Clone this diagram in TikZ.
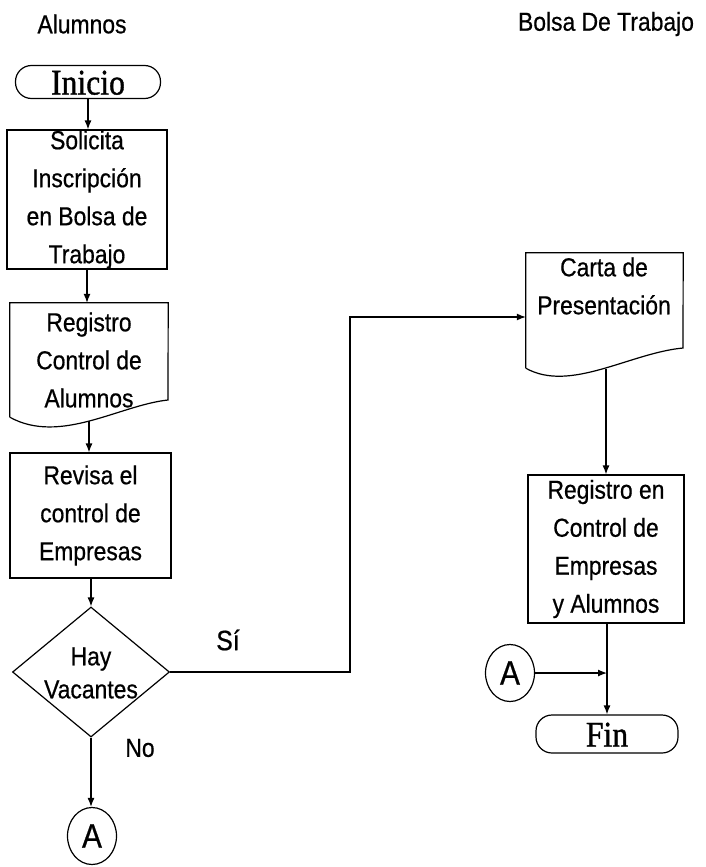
\documentclass[tikz,border=0pt]{standalone}
\usepackage{fontspec}
\setmainfont{Liberation Sans}
\newfontfamily\serifx{Liberation Serif}[FakeStretch=0.88,FakeBold=1]
\newfontfamily\sansx{Liberation Sans}[FakeStretch=0.88,FakeBold=0.6]
\usetikzlibrary{shapes.geometric,arrows.meta}
\begin{document}
\begin{tikzpicture}[x=1pt,y=-1pt,
  every node/.style={inner sep=0pt},
  txt/.style={font=\sansx\fontsize{26}{38}\selectfont, align=center},
  proc/.style={txt, draw, line width=1.2pt},
  docn/.style={txt},
  term/.style={draw, line width=1.2pt, rounded corners=16pt,
    font=\serifx\fontsize{36}{36}\selectfont, text height=25pt, text depth=0pt},
  conn/.style={draw, line width=1.2pt, ellipse, minimum width=49pt, minimum height=57pt,
    font=\sansx\fontsize{34}{34}\selectfont},
  ln/.style={line width=1.2pt},
  arr/.style={line width=1.2pt, -{Latex[length=9pt,width=7pt]}}]
\useasboundingbox (0,0) rectangle (706,867);

% titles
\node[txt] (t1) at (82,24) {Alumnos};
\node[txt] (t2) at (606,24) {Bolsa De Trabajo};

% left column
\node[term, minimum width=145pt, minimum height=33pt] (ini) at (88,82) {Inicio};
\node[proc, minimum width=160pt, minimum height=139pt] (sol) at (87,199.5)
  {Solicita\\Inscripción\\en Bolsa de\\Trabajo};
\node[docn, minimum width=158pt, minimum height=114pt] (reg) at (89,360)
  {Registro\\Control de\\Alumnos};
\draw[ln] (reg.south west) -- (reg.north west) -- (reg.north east) -- (168,400)
  .. controls (120,405) and (60,445) .. (reg.south west);
\coordinate (regb) at (89,421);
\node[proc, minimum width=161pt, minimum height=125pt] (rev) at (90.5,515.5)
  {Revisa el\\control de\\Empresas};
\node[draw, line width=1.2pt, diamond, minimum width=157pt, minimum height=130pt] (dec) at (91,672) {};
\node[txt, font=\sansx\fontsize{26}{33}\selectfont] (dectx) at (91,673) {Hay\\Vacantes};
\node[conn] (a1) at (92,836) {A};
\node[txt] (no) at (140,748) {No};
\node[txt, font=\sansx\fontsize{28}{30}\selectfont] (si) at (228,640) {Sí};

% right column
\node[docn, minimum width=157pt, minimum height=115pt] (carta) at (604.5,310.5) {};
\draw[ln] (carta.south west) -- (carta.north west) -- (carta.north east) -- (683,348)
  .. controls (630,353) and (570,393) .. (carta.south west);
\node[txt] (cartatx) at (604,286) {Carta de\\Presentación};
\coordinate (cartb) at (606,369);
\node[proc, minimum width=156pt, minimum height=148pt] (reg2) at (606,549)
  {Registro en\\Control de\\Empresas\\y Alumnos};
\node[term, minimum width=142pt, minimum height=38pt] (fin) at (607,734) {Fin};
\node[conn] (a2) at (510,673) {A};

% connectors
\draw[arr] (ini.south) -- (ini.south |- sol.north);
\draw[arr] (sol.south) -- (sol.south |- reg.north);
\draw[arr] (regb) -- (regb |- rev.north);
\draw[arr] (dec.north |- rev.south) -- (dec.north);
\draw[arr] (dec.south) -- (dec.south |- a1.north);
\coordinate (bend) at (350,317);
\draw[arr] (dec.east) -| (bend) -- (bend -| carta.west);
\draw[arr] (cartb) -- (cartb |- reg2.north);
\draw[arr] (fin.north |- reg2.south) -- (fin.north);
\draw[arr] (a2.east) -- (a2.east -| fin.north);
\end{tikzpicture}
\end{document}
